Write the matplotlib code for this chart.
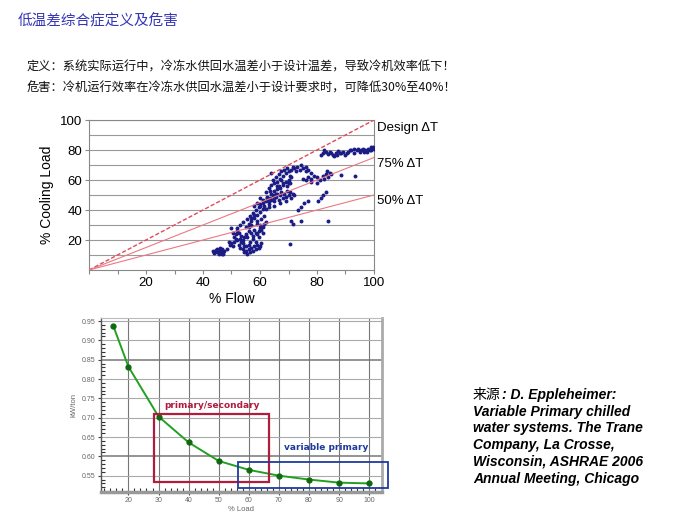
import matplotlib.pyplot as plt
from matplotlib.patches import Rectangle
import numpy as np

plt.rcParams['font.family'] = ['Liberation Sans', 'Noto Sans CJK SC', 'DejaVu Sans']

# --- texts ---
title = "低温差综合症定义及危害"
line1 = "定义：系统实际运行中，冷冻水供回水温差小于设计温差，导致冷机效率低下！"
line2 = "危害：冷机运行效率在冷冻水供回水温差小于设计要求时，可降低30%至40%！"
source_lines = [": D. Eppleheimer:",
                "Variable Primary chilled",
                "water systems. The Trane",
                "Company, La Crosse,",
                "Wisconsin, ASHRAE 2006",
                "Annual Meeting, Chicago"]

# --- top chart: % flow vs % cooling load ---
flow = [43.5, 44, 44.5, 45, 45.5, 46, 46.5, 47, 47.5, 45, 46, 44, 47, 45.5, 46.5,
        49.5, 50, 50.5, 51, 51, 51.5, 52, 52, 52.5, 53, 53, 53.5, 54, 54, 54.5, 55, 55, 55.5,
        56, 56, 56.5, 57, 57.5, 58, 58.5, 59, 59.5, 60, 60.5, 55, 56, 57, 57.5, 58, 58.5, 59,
        59.5, 60, 60.5, 61, 50, 50.5, 52, 54, 54.5,
        53, 54, 55, 55.5, 56, 56.5, 57, 57.5, 58, 58.5, 59, 59.5, 60, 60.5, 61, 61.5, 62, 57,
        59, 60, 61,
        58, 59, 60, 61, 61.5, 62, 62.5, 63, 63.5, 64, 64.5, 65, 65.5, 66, 66.5, 67, 67.5, 68,
        68.5, 69, 69.5, 70, 70.5, 71, 71.5, 72, 63, 65, 67, 69, 60, 62,
        63, 64, 64.5, 65, 65.5, 66, 66.5, 67, 67.5, 68, 68.5, 69, 69.5, 70, 70.5, 71, 64, 66,
        68, 70, 65,
        71.5, 72, 73, 74, 75, 76, 77, 78, 72.5, 74.5, 76,
        75, 76, 77, 78, 79, 80, 81, 82, 83, 84, 84.5, 83.5, 82.5, 80, 78, 85,
        81.5, 82, 83, 84, 85, 86, 87, 88, 89, 90, 91, 92, 93, 94, 95, 96, 97, 98, 99, 100,
        93, 95.5, 97.5, 99, 87.5, 90.5, 82.5,
        70.5, 84, 93.5, 88.5, 71, 74.5, 71.5, 81.5, 80.5, 77, 75.5, 74.5, 73.5, 82, 83,
        # extra points filling the dense band
        48.5, 49, 51.5, 52.5, 53.5, 54.5, 55.5, 56.5, 57.5, 58.5, 59.5, 61.5,
        56, 57, 58, 59, 60, 61, 62, 63, 64, 65, 66, 67, 68, 69, 70, 71,
        62.5, 63.5, 65.5, 66.5, 67.5, 69.5, 70.5, 84.5, 85.5, 86.5, 88.5, 91.5, 94.5, 96.5,
        98.5, 99.5]
load = [13, 12, 13.5, 12, 11, 12.5, 11, 12, 13, 14, 15, 11.5, 10.5, 13, 14,
        17, 18, 16, 19, 22, 24, 20, 26, 17, 15, 21, 23, 14, 18, 12, 16, 13, 11,
        14, 17, 12, 15, 13, 16, 14, 17, 15, 16, 18, 24, 26, 25, 23, 27, 25, 24,
        26, 28, 27, 25, 28, 25, 28, 20, 22,
        30, 32, 29, 34, 31, 36, 33, 38, 35, 40, 37, 42, 39, 34, 41, 36, 32, 30,
        31, 30, 29,
        43, 45, 44, 47, 43, 46, 49, 44, 48, 47, 50, 46, 49, 51, 47, 50, 52, 48,
        51, 49, 53, 50, 52, 48, 51, 50, 42, 43, 45, 46, 48, 52,
        55, 57, 60, 58, 62, 59, 64, 61, 66, 63, 67, 65, 68, 66, 63, 67, 65, 56,
        58, 60, 53,
        69, 68, 69, 67, 68, 66, 67, 65, 66, 70, 69,
        61, 60, 62, 61, 63, 62, 60, 63, 64, 62, 65, 66, 61, 58, 59, 64,
        77, 78, 78.5, 77.5, 78, 76, 77, 78, 79, 77, 79, 80, 78, 80, 79, 81, 80, 81, 80, 81,
        80.5, 80, 79, 82, 79.5, 78, 80,
        17.5, 33, 62.5, 63.5, 33, 33, 31, 48, 46, 46, 45, 42, 40, 50, 52,
        14, 19, 21, 25, 19, 16, 22, 19, 21, 19, 22, 31,
        29, 35, 37, 33, 43, 45, 41, 46, 51, 48, 54, 55, 57, 59, 58, 62,
        48, 53, 51, 56, 60, 56, 58, 79, 77, 78, 78, 80, 81, 79,
        80, 82]

line_x = [0, 100]
design_dt = [0, 100]
dt75 = [0, 75]
dt50 = [0, 50]

# --- bottom chart: kW/ton vs % load ---
pct_load = [15, 20, 30, 40, 50, 60, 70, 80, 90, 100]
kw_ton = [0.937, 0.832, 0.703, 0.636, 0.588, 0.565, 0.550, 0.540, 0.532, 0.530]

fig = plt.figure(figsize=(6.92, 5.2), dpi=100)

fig.text(18 / 692, 1 - 20 / 520, title, fontsize=10.5, color='#3535b8',
         family=['Noto Sans CJK SC'], va='center', ha='left')
fig.text(27 / 692, 1 - 67 / 520, line1, fontsize=8.8, color='#111111',
         family=['Noto Sans CJK SC'], va='center', ha='left')
fig.text(27 / 692, 1 - 88 / 520, line2, fontsize=8.8, color='#111111',
         family=['Noto Sans CJK SC'], va='center', ha='left')

# top chart
ax1 = fig.add_axes([89 / 692, 1 - 270 / 520, 285 / 692, 150 / 520])
ax1.set_xlim(0, 100)
ax1.set_ylim(0, 100)
for yv in range(10, 101, 10):
    ax1.axhline(yv, color='#999999', lw=0.8, zorder=1)
ax1.scatter(flow, load, s=8, color='#1c1c86', zorder=3, linewidths=0)
ax1.plot(line_x, design_dt, color='#e04a5c', lw=1.0, ls=(0, (3, 1.5)), zorder=4)
ax1.plot(line_x, dt75, color='#ec7884', lw=0.8, zorder=4)
ax1.plot(line_x, dt50, color='#ec7884', lw=0.8, zorder=4)
ax1.text(101, 95, "Design \u0394T", fontsize=9.5, va='center', ha='left')
ax1.text(101, 71, "75% \u0394T", fontsize=9.5, va='center', ha='left')
ax1.text(101, 46, "50% \u0394T", fontsize=9.5, va='center', ha='left')
ax1.set_xticks(range(0, 101, 10))
ax1.set_xticklabels(['' if (v % 20 or v == 0) else str(v) for v in range(0, 101, 10)])
ax1.set_yticks(range(20, 101, 20))
ax1.tick_params(labelsize=9.5, length=3, color='#888888', width=0.8, pad=2)
for s in ax1.spines.values():
    s.set_color('#888888')
    s.set_linewidth(0.8)
ax1.set_xlabel("% Flow", fontsize=10, labelpad=2)
ax1.set_ylabel("% Cooling Load", fontsize=10, labelpad=4)

# bottom chart
ax2 = fig.add_axes([100.7 / 692, 1 - 491.7 / 520, 281 / 692, 173.7 / 520])
ax2.set_xlim(10.8, 104.1)
ax2.set_ylim(0.5086, 0.9578)
for xv in range(20, 101, 10):
    ax2.axvline(xv, color='#777777', lw=0.8, zorder=1)
for yv in np.arange(0.55, 0.951, 0.05):
    dark = abs(yv - 0.60) < 1e-6 or abs(yv - 0.85) < 1e-6
    ax2.axhline(yv, color='#777777' if dark else '#aaaaaa', lw=1.1 if dark else 0.8, zorder=1)
ax2.plot(pct_load, kw_ton, color='#22a022', lw=1.4, marker='o', ms=3.5,
         mfc='#0f6a0f', mec='#0f6a0f', zorder=4)
ax2.add_patch(Rectangle((28.5, 0.5345), 38.3, 0.175, fill=False, ec='#b01c3c',
                        lw=1.6, zorder=5))
ax2.add_patch(Rectangle((56.5, 0.519), 49.7, 0.066, fill=False, ec='#1f3aa0',
                        lw=1.3, zorder=5, clip_on=False))
ax2.text(47.9, 0.731, "primary/secondary", fontsize=6.5, fontweight='bold',
         color='#b01c3c', family=['DejaVu Sans'], ha='center', va='center')
ax2.text(85.8, 0.622, "variable primary", fontsize=6.5, fontweight='bold',
         color='#1f3aa0', family=['DejaVu Sans'], ha='center', va='center')
ax2.set_xticks(range(20, 101, 10))
ax2.set_yticks(np.arange(0.55, 0.951, 0.05))
ax2.set_yticklabels(["%.2f" % v for v in np.arange(0.55, 0.951, 0.05)])
ax2.set_xticks(np.arange(12, 104, 2), minor=True)
ax2.set_yticks(np.arange(0.51, 0.955, 0.01), minor=True)
ax2.tick_params(which='major', labelsize=5, labelcolor='#666666', length=2, color='#444444', pad=2)
ax2.tick_params(which='minor', direction='in', length=3, color='#333333', width=0.8)
ax2.spines['left'].set_color('#555555')
ax2.spines['left'].set_linewidth(1.0)
ax2.spines['bottom'].set_color('#999999')
ax2.spines['bottom'].set_linewidth(2.5)
ax2.spines['right'].set_color('#aaaaaa')
ax2.spines['right'].set_linewidth(2.0)
ax2.spines['top'].set_color('#bbbbbb')
ax2.set_xlabel("% Load", fontsize=5.5, color='#666666', labelpad=1)
ax2.set_ylabel("kW/ton", fontsize=5.5, color='#666666', labelpad=3)

# source note
fig.text(473 / 692, 1 - 395 / 520, "来源", fontsize=10, family=['Noto Sans CJK SC'],
         va='center', ha='left')
for i, s in enumerate(source_lines):
    x0 = 502 if i == 0 else 473
    fig.text(x0 / 692, 1 - (395 + i * 16.7) / 520, s, fontsize=10, fontweight='bold',
             fontstyle='italic', va='center', ha='left')

fig.savefig("out.png", dpi=100)
